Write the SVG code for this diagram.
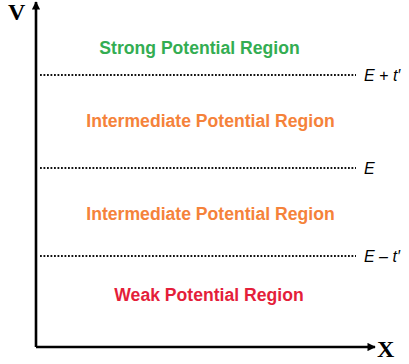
<svg xmlns="http://www.w3.org/2000/svg" width="409" height="364" viewBox="0 0 409 364">
<defs>
<marker id="arr" viewBox="0 0 10 10" refX="9" refY="5" markerWidth="3.4" markerHeight="3.2" orient="auto" markerUnits="strokeWidth">
<path d="M0,0 L10,5 L0,10 z" fill="#000"/>
</marker>
<style>
.axis{stroke:#000;stroke-width:2.6;fill:none}
.dot{stroke:#111;stroke-width:2;stroke-dasharray:1.8 1.7;fill:none}
.ax{font-family:"Liberation Serif",serif;font-weight:bold;font-size:24px;fill:#000}
.reg{font-family:"Liberation Sans",Arial,sans-serif;font-weight:bold;font-size:17.6px;text-anchor:middle}
.lab{font-family:"Liberation Sans",Arial,sans-serif;font-style:italic;font-size:16px;fill:#000}
</style>
</defs>
<rect width="409" height="364" fill="#fff"/>
<g id="connectors">
<path class="axis" d="M36,347 L36,2" marker-end="url(#arr)"/>
<path class="axis" d="M36,347 L375,347" marker-end="url(#arr)"/>
<path class="dot" d="M40,75 L356,75"/>
<path class="dot" d="M40,168 L356,168"/>
<path class="dot" d="M40,256 L356,256"/>
</g>
<g id="axis-labels">
<text class="ax" x="8" y="20">V</text>
<text class="ax" x="377" y="357">X</text>
</g>
<g id="strong"><text class="reg" x="199.5" y="54" fill="#33ad52">Strong Potential Region</text></g>
<g id="intermediate1"><text class="reg" x="210.5" y="127" fill="#f5823a">Intermediate Potential Region</text></g>
<g id="intermediate2"><text class="reg" x="210.5" y="220" fill="#f5823a">Intermediate Potential Region</text></g>
<g id="weak"><text class="reg" x="209" y="301" fill="#e41e3a">Weak Potential Region</text></g>
<g id="levels">
<text class="lab" x="364" y="81">E + t′</text>
<text class="lab" x="364" y="174">E</text>
<text class="lab" x="364" y="262">E – t′</text>
</g>
</svg>
